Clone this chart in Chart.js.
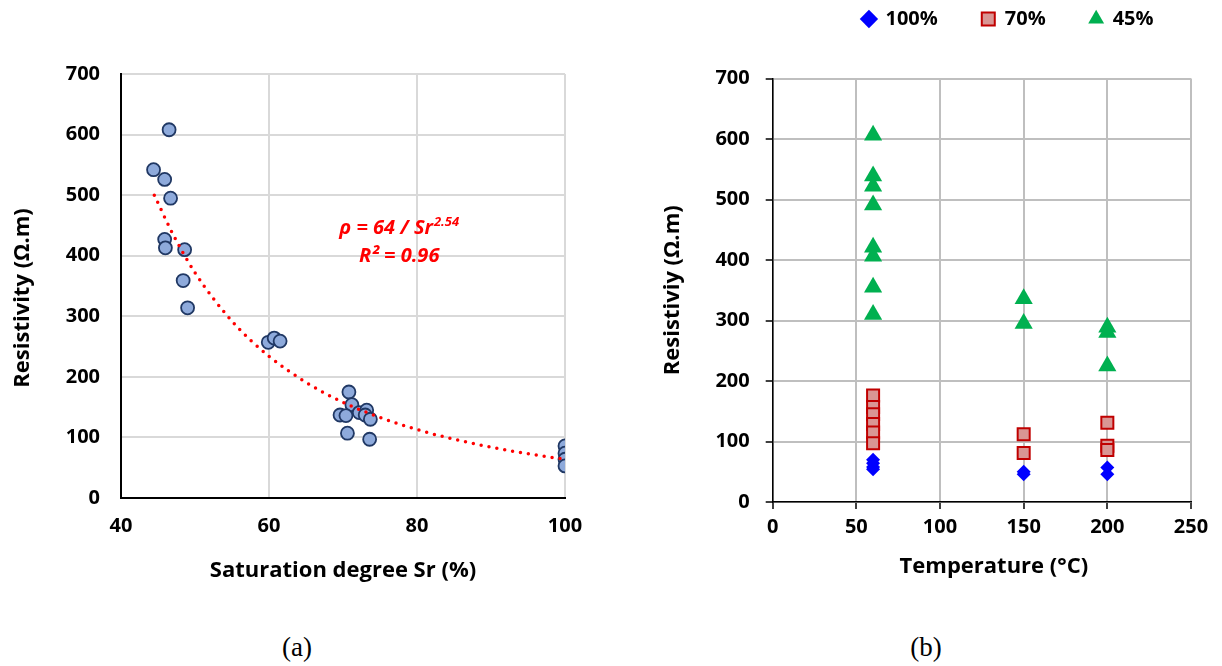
<!DOCTYPE html>
<html><head><meta charset="utf-8">
<script src="https://cdn.jsdelivr.net/npm/chart.js@4.4.0/dist/chart.umd.min.js"></script>
<style>
html,body{margin:0;padding:0;background:#fff;width:1222px;height:666px;overflow:hidden;position:relative;}
#c1{position:absolute;left:0;top:0;}
#c2{position:absolute;left:612px;top:0;}
.cap{position:absolute;top:634px;font-family:"Liberation Serif","Times New Roman",serif;font-size:27px;color:#000;transform:translateX(-50%);line-height:1;}
</style></head><body>
<canvas id="c1" width="610" height="610" style="width:610px;height:610px"></canvas>
<canvas id="c2" width="610" height="610" style="width:610px;height:610px"></canvas>
<div class="cap" style="left:297px">(a)</div>
<div class="cap" style="left:926px">(b)</div>
<script>
// ---------- Chart (a): resistivity vs saturation degree ----------
const satDegree   = [46.5, 44.4, 45.9, 46.7, 45.9, 46.0, 48.6, 48.4, 49.0, 59.9, 60.7, 61.5, 70.8, 71.2, 69.6, 70.4, 70.6, 72.2, 73.2, 73.0, 73.7, 73.6, 100, 100, 100, 100];
const resistivityA= [608, 542, 526, 495, 427, 413, 410, 359, 314, 257, 264, 259, 175, 154, 137, 136, 107, 141, 145, 137, 130, 97, 86, 74, 64, 53];
const trendSat    = [44.5, 47, 50, 55, 60, 65, 70, 75, 80, 85, 90, 95, 100];
const trendRes    = [500, 436, 372, 292, 234, 191, 158, 133, 113, 97, 84, 73, 64];
const xTicksA     = [40, 60, 80, 100];
const yTicksA     = [0, 100, 200, 300, 400, 500, 600, 700];
const eqLine1     = 'ρ = 64 / Sr';
const eqSup       = '2.54';
const eqLine2     = 'R² = 0.96';
const titleXA     = 'Saturation degree Sr (%)';
const titleYA     = 'Resistivity (Ω.m)';

// ---------- Chart (b): resistivity vs temperature ----------
const seriesNames = ['100%', '70%', '45%'];
const temp100 = [60, 60, 60, 60, 150, 150, 200, 200];
const res100  = [70, 64, 58, 54, 50, 46, 57, 46];
const temp70  = [60, 60, 60, 60, 60, 60, 150, 150, 200, 200, 200];
const res70   = [176, 157, 145, 129, 115, 97, 112, 81, 131, 93, 86];
const temp45  = [60, 60, 60, 60, 60, 60, 60, 60, 150, 150, 200, 200, 200];
const res45   = [606, 539, 522, 491, 421, 406, 355, 310, 336, 295, 289, 280, 225];
const xTicksB = [0, 50, 100, 150, 200, 250];
const yTicksB = [0, 100, 200, 300, 400, 500, 600, 700];
const titleXB = 'Temperature (°C)';
const titleYB = 'Resistiviy (Ω.m)';

const FONT = '"Open Sans", Lato, "DejaVu Sans", sans-serif';
const tickFont = {family: FONT, size: 20, weight: 'bold'};
const titleFont = {family: FONT, size: 22, weight: 'bold'};
const pts = (xs, ys) => xs.map((x, i) => ({x, y: ys[i]}));
const fixTicks = arr => s => { s.ticks = arr.map(v => ({value: v})); };

// axis title drawn relative to the chart area (lets it sit off-centre like the original)
const axisTitle = (id, text, where) => ({
  id,
  afterDraw(chart) {
    const {ctx, chartArea: a} = chart;
    const p = where(a);
    ctx.save();
    ctx.translate(p.x, p.y);
    ctx.rotate(p.rot || 0);
    ctx.font = 'bold 22px ' + FONT;
    ctx.fillStyle = '#000';
    ctx.textAlign = 'center';
    ctx.textBaseline = 'middle';
    ctx.fillText(text, 0, 0);
    ctx.restore();
  }
});

const eqPlugin = {
  id: 'eq',
  afterDatasetsDraw(chart) {
    const {ctx, scales: {x, y}} = chart;
    const cx = x.getPixelForValue(77.6);
    const b1 = y.getPixelForValue(436);
    const b2 = y.getPixelForValue(389.5);
    ctx.save();
    ctx.fillStyle = '#ff0000';
    ctx.textBaseline = 'alphabetic';
    ctx.textAlign = 'left';
    const mainF = 'italic bold 20px ' + FONT;
    const supF = 'italic bold 13px ' + FONT;
    ctx.font = mainF; const w1 = ctx.measureText(eqLine1).width;
    ctx.font = supF; const w2 = ctx.measureText(eqSup).width;
    const sx = cx - (w1 + w2 + 1) / 2;
    ctx.font = mainF; ctx.fillText(eqLine1, sx, b1);
    ctx.font = supF; ctx.fillText(eqSup, sx + w1 + 1, b1 - 8);
    ctx.font = mainF; ctx.textAlign = 'center'; ctx.fillText(eqLine2, cx, b2);
    ctx.restore();
  }
};

new Chart(document.getElementById('c1'), {
  type: 'scatter',
  data: {datasets: [
    {label: 'trend', type: 'line', data: pts(trendSat, trendRes), showLine: true,
     borderColor: '#ff0000', borderWidth: 3.5, borderDash: [0, 8], borderCapStyle: 'round',
     pointRadius: 0, fill: false, cubicInterpolationMode: 'monotone'},
    {label: 'data', data: pts(satDegree, resistivityA), pointRadius: 6.5,
     pointBackgroundColor: '#8eaadb', pointBorderColor: '#203864', pointBorderWidth: 1.8}
  ]},
  options: {
    responsive: false, animation: false, events: [],
    layout: {padding: {left: 0, top: 74, right: 45, bottom: 20}},
    plugins: {legend: {display: false}, tooltip: {enabled: false}},
    scales: {
      x: {type: 'linear', min: 40, max: 100, afterBuildTicks: fixTicks(xTicksA),
          grid: {color: '#d9d9d9', lineWidth: 2, drawTicks: false},
          border: {color: '#000', width: 2},
          ticks: {font: tickFont, color: '#000', padding: 16, maxRotation: 0},
          title: {display: true, text: titleXA, font: titleFont, color: '#000', padding: {top: 0, bottom: 6}},
          afterFit: s => { s.height = 92; }},
      y: {type: 'linear', min: 0, max: 700, afterBuildTicks: fixTicks(yTicksA),
          grid: {color: '#d9d9d9', lineWidth: 2, drawTicks: false},
          border: {color: '#000', width: 2},
          ticks: {font: tickFont, color: '#000', padding: 21},
          title: {display: false},
          afterFit: s => { s.width = 121; }}
    }
  },
  plugins: [eqPlugin, axisTitle('ytA', titleYA, a => ({x: 23, y: (a.top + a.bottom) / 2 + 12, rot: -Math.PI / 2}))]
});

const legendShift = {
  id: 'legendShift',
  afterLayout(chart) {
    const L = chart.legend; if (!L) return;
    const h = L.bottom - L.top;
    const cx = 396, w = 600;
    L.left = cx - w / 2; L.right = cx + w / 2;
    const top = 19 - L.options.labels.padding - 10;
    L.top = top; L.bottom = top + h;
  }
};

new Chart(document.getElementById('c2'), {
  type: 'scatter',
  data: {datasets: [
    {label: seriesNames[0], data: pts(temp100, res100), pointStyle: 'rectRot', pointRadius: 7,
     backgroundColor: '#0000ff', borderColor: '#0000ff', borderWidth: 0, pointBorderWidth: 0},
    {label: seriesNames[1], data: pts(temp70, res70), pointStyle: 'rect', pointRadius: 8.5,
     backgroundColor: '#d99694', borderColor: '#c00000', borderWidth: 2, pointBorderWidth: 2},
    {label: seriesNames[2], data: pts(temp45, res45), pointStyle: 'triangle', pointRadius: 10.5,
     backgroundColor: '#00b050', borderColor: '#00b050', borderWidth: 0, pointBorderWidth: 0}
  ]},
  options: {
    responsive: false, animation: false, events: [],
    layout: {padding: {left: 30, top: 4.5, right: 31, bottom: 13}},
    plugins: {
      tooltip: {enabled: false},
      legend: {display: true, position: 'top',
        labels: {usePointStyle: true, boxHeight: 13, boxWidth: 13, padding: 44, font: tickFont, color: '#000'}}
    },
    scales: {
      x: {type: 'linear', min: 0, max: 250, afterBuildTicks: fixTicks(xTicksB),
          grid: {color: '#bfbfbf', lineWidth: 2, drawTicks: true, tickLength: 7, tickColor: '#000', tickWidth: 1.5},
          border: {color: '#000', width: 1.5},
          ticks: {font: tickFont, color: '#000', padding: 6, maxRotation: 0},
          title: {display: false},
          afterFit: s => { s.height = 95; }},
      y: {type: 'linear', min: 0, max: 700, afterBuildTicks: fixTicks(yTicksB),
          grid: {color: '#bfbfbf', lineWidth: 2, drawTicks: true, tickLength: 7, tickColor: '#000', tickWidth: 1.5},
          border: {color: '#000', width: 1.5},
          ticks: {font: tickFont, color: '#000', padding: 16},
          title: {display: true, text: titleYB, font: titleFont, color: '#000', padding: {top: 18, bottom: 0}},
          afterFit: s => { s.width = 130.7; }}
    }
  },
  plugins: [legendShift, axisTitle('xtB', titleXB, a => ({x: (a.left + a.right) / 2 + 12, y: a.bottom + 65}))]
});
</script>
</body></html>
